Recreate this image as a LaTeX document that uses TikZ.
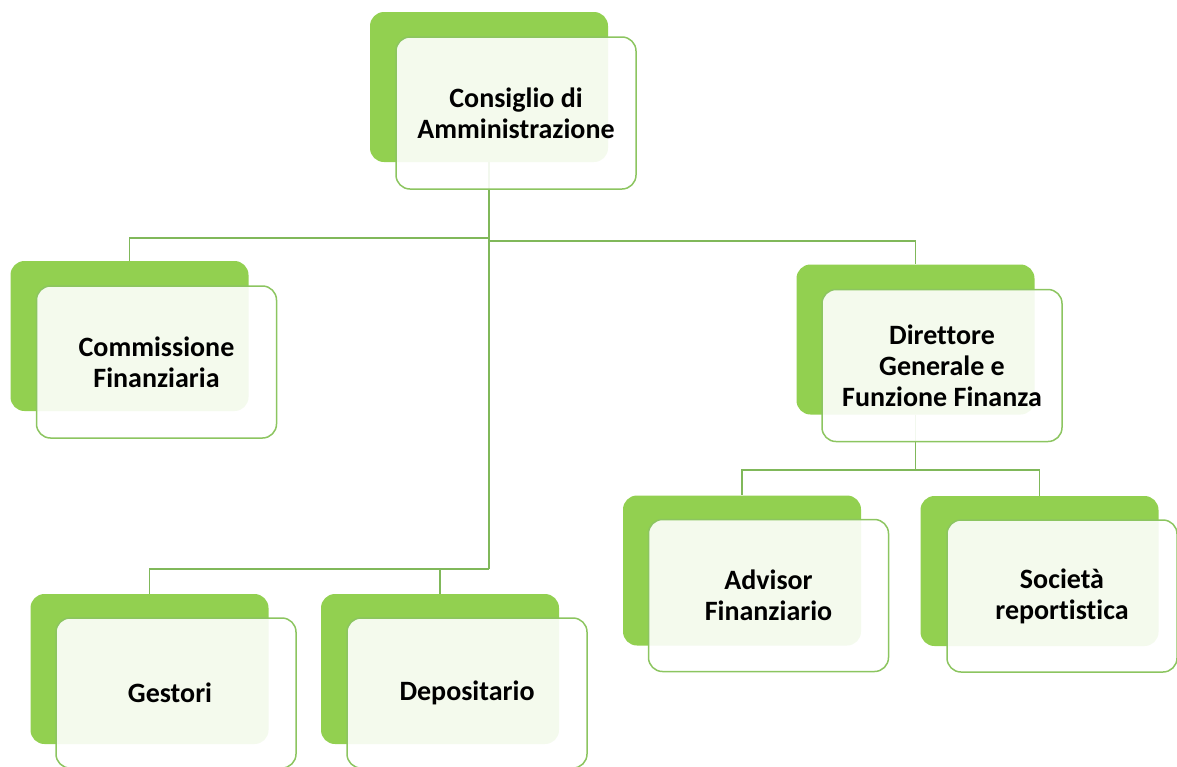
\documentclass[tikz,border=0pt]{standalone}
\usepackage{fontspec}
\setmainfont[Ligatures=NoCommon]{Carlito}
\definecolor{backgreen}{HTML}{92D050}
\definecolor{bordergreen}{HTML}{8CC560}
\definecolor{linegreen}{HTML}{80B85A}
\begin{document}
\begin{tikzpicture}[x=1pt,y=-1pt,
  backbox/.style={fill=backgreen, rounded corners=14pt, minimum width=238pt, minimum height=150pt, inner sep=0pt},
  frontbox/.style={draw=bordergreen, line width=1.5pt, fill=white, fill opacity=0.9, text opacity=1,
    rounded corners=14pt, minimum width=240pt, minimum height=152pt, inner sep=0pt, align=center,
    font=\fontsize{28}{31}\selectfont\bfseries},
  conn/.style={draw=linegreen, line width=1.8pt}]
\useasboundingbox (0,0) rectangle (1177,766);
% back boxes
\node[backbox] (cdaB) at (489,87) {};
\node[backbox] (comB) at (129.5,336) {};
\node[backbox] (dirB) at (915.5,339.5) {};
\node[backbox] (advB) at (742,570.5) {};
\node[backbox] (socB) at (1039.5,571) {};
\node[backbox] (gesB) at (149.5,669) {};
\node[backbox] (depB) at (440,669) {};
% connectors
\coordinate (j1) at (489,238);
\coordinate (j1r) at (489,241);
\coordinate (j2) at (489,569);
\coordinate (j3) at (915.5,470);
\draw[conn] (cdaB.south) -- (j2);
\draw[conn] (j1) -| (comB.north);
\draw[conn] (j1r) -| (dirB.north);
\draw[conn] (j2) -| (gesB.north);
\draw[conn] (j2) -| (depB.north);
\draw[conn] (dirB.south) -- (j3);
\draw[conn] (j3) -| (advB.north);
\draw[conn] (j3) -| (socB.north);
% front boxes
\node[frontbox] (cdaF) at (516,113) {Consiglio di\\Amministrazione};
\node[frontbox] (comF) at (156.5,362) {Commissione\\Finanziaria};
\node[frontbox] (dirF) at (942,365.5) {Direttore\\Generale e\\Funzione Finanza};
\node[frontbox] (advF) at (768.5,595.5) {Advisor\\Finanziario};
\node[frontbox, minimum width=230pt] (socF) at (1062,596) {Società\\reportistica};
\node[frontbox, minimum height=150pt] (gesF) at (176,693) {Gestori\hspace*{12pt}};
\node[frontbox, minimum height=150pt] (depF) at (467,693) {Depositario};
\end{tikzpicture}
\end{document}
